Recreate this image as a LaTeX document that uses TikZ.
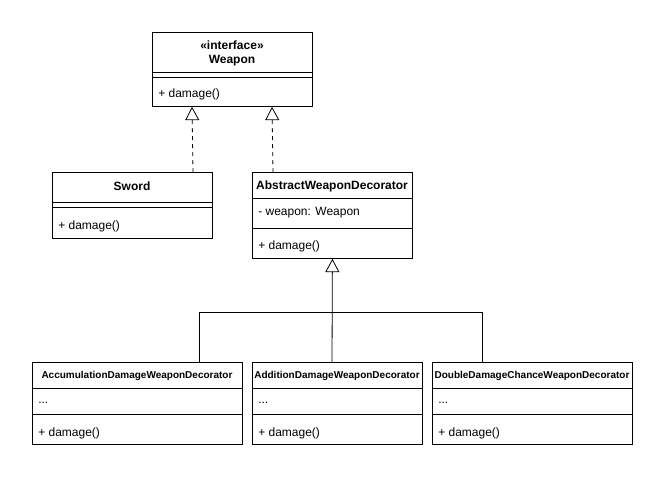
\documentclass[tikz,border=0pt]{standalone}
\usepackage{fontspec}
\setmainfont{Liberation Sans}
\usetikzlibrary{arrows.meta,calc}

\newcommand*{\memberfont}{\fontsize{9}{11}\selectfont}

\begin{document}
\begin{tikzpicture}
[
	x=0.75pt, y=-0.75pt,
	box/.style={draw, semithick, anchor=north west, inner sep=0pt},
	title/.style={font=\bfseries\fontsize{9}{11}\selectfont, align=center},
	smalltitle/.style={font=\bfseries\fontsize{7.5}{9}\selectfont},
	member/.style={anchor=west, inner sep=0pt, font=\memberfont},
	realize/.style={semithick, dashed, -{Triangle[open, width=10.5pt, length=10pt, fill=white]}},
	inherit/.style={semithick, -{Triangle[open, width=10.5pt, length=10pt, fill=white]}},
]

	\useasboundingbox (0,0) rectangle (666,480);

	% class boxes
	\node[box, minimum width=120pt, minimum height=55.5pt] (weapon) at (152,32) {};
	\node[box, minimum width=120pt, minimum height=49.5pt] (sword) at (52,172) {};
	\node[box, minimum width=120pt, minimum height=64.5pt] (abstract) at (252,172) {};
	\node[box, minimum width=157.5pt, minimum height=61.5pt] (accum) at (32,362) {};
	\node[box, minimum width=127.5pt, minimum height=61.5pt] (addition) at (252,362) {};
	\node[box, minimum width=150pt, minimum height=61.5pt] (double) at (432,362) {};

	% compartments
	\draw[semithick] (152,72) -- (312,72) (152,77) -- (312,77);
	\draw[semithick] (52,202) -- (212,202) (52,207) -- (212,207);
	\draw[semithick] (252,198) -- (412,198) (252,228) -- (412,228);
	\foreach \l/\r in {32/242, 252/422, 432/632}
		\draw[semithick] (\l,388) -- (\r,388) (\l,414) -- (\r,414);

	% texts
	\node[title] (weapontitle) at (232,53.5) {«interface»\\Weapon};
	\node[member] (weapondamage) at (158,94) {+ damage()};
	\node[title] (swordtitle) at (132,186.5) {Sword};
	\node[member] (sworddamage) at (58,226) {+ damage()};
	\node[title] (abstracttitle) at (332,186.5) {AbstractWeaponDecorator};
	\node[member] (abstractfield) at (258,213) {- weapon: Weapon};
	\node[member] (abstractdamage) at (258,246) {+ damage()};

	\node[smalltitle] (accumtitle) at (137,375.5) {AccumulationDamageWeaponDecorator};
	\node[smalltitle] (additiontitle) at (337,375.5) {AdditionDamageWeaponDecorator};
	\node[smalltitle] (doubletitle) at (532,375.5) {DoubleDamageChanceWeaponDecorator};
	\foreach \n/\x in {accum/38, addition/258, double/438}
	{
		\node[member] (\n dots) at (\x,403) {...};
		\node[member] (\n damage) at (\x,433) {+ damage()};
	}

	% realization
	\draw[realize] ($(sword.north west)+(141,0)$) -- ($(weapon.south west)+(40,0)$);
	\draw[realize] ($(abstract.north west)+(21,0)$) -- ($(weapon.south west)+(120,0)$);

	% inheritance
	\draw[inherit] ($(addition.north west)+(80,0)$) -- (abstract.south);
	\draw[semithick] ($(accum.north west)+(167,0)$) |- ($(double.north west)+(50,-50)$)
		-- ($(double.north west)+(50,0)$);

\end{tikzpicture}
\end{document}
